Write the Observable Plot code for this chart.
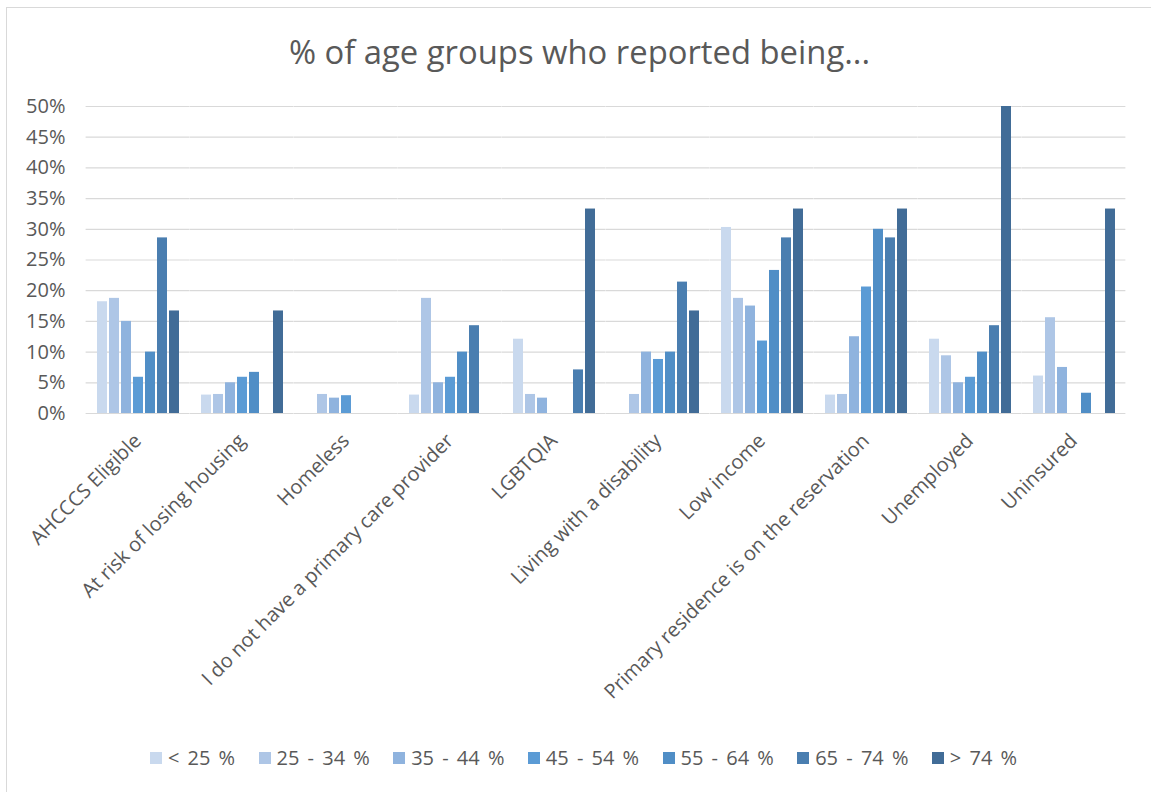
<!DOCTYPE html>
<html>
<head>
<meta charset="utf-8">
<script src="https://cdn.jsdelivr.net/npm/d3@7"></script>
<script src="https://cdn.jsdelivr.net/npm/@observablehq/plot@0.6"></script>
<style>
  html, body { margin: 0; padding: 0; background: #fff; }
  #wrap { position: relative; width: 1151px; height: 792px; overflow: hidden; font-family: "Open Sans", sans-serif; color: #595959; }
  #frame { position: absolute; left: 6px; top: 7px; width: 1160px; height: 800px; border-left: 1.5px solid #d9d9d9; border-top: 1.5px solid #d9d9d9; box-sizing: border-box; }
  #title { position: absolute; left: 4px; width: 1151px; top: 30px; text-align: center; font-size: 32.8px; line-height: 44px; color: #595959; }
  #chart { position: absolute; left: 0; top: 80px; }
  #legend { position: absolute; left: 8px; width: 1151px; top: 746px; display: flex; justify-content: center; font-size: 20px; line-height: 24px; word-spacing: 3px; }
  .item { display: flex; align-items: center; margin: 0 11.7px; }
  .sw { width: 12px; height: 12px; margin-right: 6px; }
</style>
</head>
<body>
<div id="wrap">
  <div id="frame"></div>
  <div id="title">% of age groups who reported being...</div>
  <div id="chart"></div>
  <div id="legend"></div>
</div>
<script>
const categories = ["AHCCCS Eligible", "At risk of losing housing", "Homeless", "I do not have a primary care provider", "LGBTQIA", "Living with a disability", "Low income", "Primary residence is on the reservation", "Unemployed", "Uninsured"];
const ages = ["< 25 %", "25 - 34 %", "35 - 44 %", "45 - 54 %", "55 - 64 %", "65 - 74 %", "> 74 %"];
const colors = ["#c9d9ee", "#aec6e6", "#8fb3de", "#5b9bd5", "#508ec6", "#4a7eb0", "#416c97"];
const under25 = [18.2, 3.0, null, 3.0, 12.1, null, 30.3, 3.0, 12.1, 6.1];
const age25to34 = [18.75, 3.1, 3.1, 18.75, 3.1, 3.1, 18.75, 3.1, 9.4, 15.6];
const age35to44 = [15.0, 5.0, 2.5, 5.0, 2.5, 10.0, 17.5, 12.5, 5.0, 7.5];
const age45to54 = [5.9, 5.9, 2.9, 5.9, null, 8.8, 11.8, 20.6, 5.9, null];
const age55to64 = [10.0, 6.7, null, 10.0, null, 10.0, 23.3, 30.0, 10.0, 3.3];
const age65to74 = [28.6, null, null, 14.3, 7.1, 21.4, 28.6, 28.6, 14.3, null];
const over74 = [16.7, 16.7, null, null, 33.3, 16.7, 33.3, 33.3, 50.0, 33.3];
const yTicks = [0, 5, 10, 15, 20, 25, 30, 35, 40, 45, 50];

const series = [under25, age25to34, age35to44, age45to54, age55to64, age65to74, over74];
const data = [];
series.forEach((vals, i) => {
  vals.forEach((v, j) => {
    if (v != null) data.push({category: categories[j], age: ages[i], value: v});
  });
});

const chart = Plot.plot({
  width: 1151,
  height: 643,
  marginTop: 26,
  marginBottom: 310,
  marginLeft: 85,
  marginRight: 24,
  style: {fontFamily: "Open Sans", fontSize: "20px", color: "#595959", background: "transparent", overflow: "visible"},
  fx: {domain: categories, paddingInner: 0.18, paddingOuter: 0.09, label: null, axis: "bottom", tickSize: 0, tickRotate: -45, tickPadding: 24},
  x: {domain: ages, axis: null, paddingInner: 0.2, paddingOuter: 0.1},
  y: {domain: [0, 50], ticks: yTicks, tickFormat: d => d + "%", tickSize: 0, tickPadding: 30, label: null},
  color: {domain: ages, range: colors},
  marks: [
    Plot.ruleY(yTicks, {stroke: "#d9d9d9", strokeWidth: 1.2, insetLeft: -9.38, insetRight: -9.38}),
    Plot.barY(data, {fx: "category", x: "age", y: "value", fill: "age"})
  ]
});
document.getElementById("chart").appendChild(chart);

const legend = d3.select("#legend");
ages.forEach((a, i) => {
  const it = legend.append("div").attr("class", "item");
  it.append("div").attr("class", "sw").style("background", colors[i]);
  it.append("span").text(a);
});
</script>
</body>
</html>
